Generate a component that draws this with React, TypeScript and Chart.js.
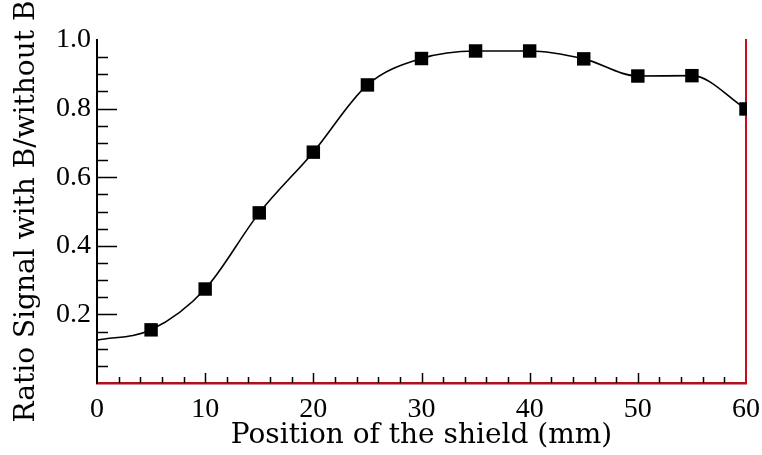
import React, { useEffect, useRef } from "react";
import { Chart, registerables } from "chart.js";

Chart.register(...registerables);

// Shield position (mm) of the measured points
const measuredPositions = [5, 10, 15, 20, 25, 30, 35, 40, 45, 50, 55, 60];
// Ratio signal with B / without B at those positions
const measuredRatios = [0.155, 0.274, 0.496, 0.673, 0.869, 0.946, 0.968, 0.968, 0.945, 0.895, 0.896, 0.799];
// Smooth curve starts at position 0 with this ratio (no marker there)
const curveStartPosition = 0;
const curveStartRatio = 0.125;

const xTickValues = [0, 10, 20, 30, 40, 50, 60];
const xTickLabels = ["0", "10", "20", "30", "40", "50", "60"];
const yTickValues = [0.2, 0.4, 0.6, 0.8, 1.0];
const yTickLabels = ["0.2", "0.4", "0.6", "0.8", "1.0"];
const xMinorStep = 2;
const yMinorStep = 0.05;

const innerTicks = {
  id: "innerTicks",
  beforeDatasetsDraw(chart: any) {
    const { ctx, chartArea, scales } = chart;
    const xs = scales.x;
    const ys = scales.y;
    ctx.save();
    ctx.strokeStyle = "#000";
    ctx.lineWidth = 1.5;
    ctx.beginPath();
    // y ticks (inside, from left axis)
    for (let k = 1; k * yMinorStep < ys.max - 1e-6; k++) {
      const v = k * yMinorStep;
      const major = yTickValues.some((t) => Math.abs(t - v) < 1e-6);
      const py = Math.round(ys.getPixelForValue(v)) + 0.5;
      ctx.moveTo(chartArea.left, py);
      ctx.lineTo(chartArea.left + (major ? 20 : 11), py);
    }
    // x ticks (inside, from bottom axis)
    for (let k = 1; k * xMinorStep < xs.max - 1e-6; k++) {
      const v = k * xMinorStep;
      const major = xTickValues.some((t) => Math.abs(t - v) < 1e-6);
      const px = Math.round(xs.getPixelForValue(v)) + 0.5;
      ctx.moveTo(px, chartArea.bottom);
      ctx.lineTo(px, chartArea.bottom - (major ? 10 : 6));
    }
    ctx.stroke();
    ctx.restore();
  },
};

export default function App() {
  const canvasRef = useRef<HTMLCanvasElement | null>(null);

  useEffect(() => {
    if (!canvasRef.current) return;
    const curve = [{ x: curveStartPosition, y: curveStartRatio }].concat(
      measuredPositions.map((x, i) => ({ x, y: measuredRatios[i] }))
    );
    const markers = measuredPositions.map((x, i) => ({ x, y: measuredRatios[i] }));

    const chart = new Chart(canvasRef.current, {
      type: "line",
      data: {
        datasets: [
          {
            data: markers,
            showLine: false,
            pointStyle: "rect",
            pointRadius: 9.5,
            pointHoverRadius: 9.5,
            backgroundColor: "#000",
            borderColor: "#000",
            pointBorderWidth: 0,
            clip: { left: 0, top: 20, right: 1, bottom: 0 },
          } as any,
          {
            data: curve,
            borderColor: "#000",
            borderWidth: 1.6,
            pointRadius: 0,
            cubicInterpolationMode: "monotone",
            fill: false,
            clip: { left: 0, top: 20, right: 0, bottom: 0 },
          } as any,
        ],
      },
      options: {
        animation: false,
        responsive: false,
        devicePixelRatio: 1,
        layout: { padding: { top: 40, right: 16, left: 0, bottom: 0 } },
        plugins: { legend: { display: false }, tooltip: { enabled: false } },
        events: [],
        scales: {
          x: {
            type: "linear",
            min: 0,
            max: 60,
            afterFit: (s: any) => {
              s.height = 72;
              s.paddingLeft = 0;
              s.paddingRight = 0;
            },
            afterBuildTicks: (s: any) => {
              s.ticks = xTickValues.map((v) => ({ value: v }));
            },
            grid: { display: false, drawTicks: false },
            border: { display: true, color: "#b0101c", width: 2.5 },
            ticks: {
              callback: (_v: any, i: number) => xTickLabels[i],
              font: { family: "Liberation Serif", size: 28 },
              color: "#000",
              padding: 10,
              maxRotation: 0,
              autoSkip: false,
            },
            title: {
              display: true,
              text: "Position of the shield (mm)",
              font: { family: "DejaVu Serif", size: 28 },
              color: "#000",
              padding: { top: 0, bottom: 2 },
            },
          },
          y: {
            type: "linear",
            min: 0,
            max: 1,
            afterFit: (s: any) => {
              s.width = 97;
              s.paddingTop = 0;
              s.paddingBottom = 0;
            },
            afterBuildTicks: (s: any) => {
              s.ticks = yTickValues.map((v) => ({ value: v }));
            },
            grid: { display: false, drawTicks: false },
            border: { display: true, color: "#000", width: 2 },
            ticks: {
              callback: (_v: any, i: number) => yTickLabels[i],
              font: { family: "Liberation Serif", size: 28 },
              color: "#000",
              padding: 6,
              autoSkip: false,
            },
            title: {
              display: true,
              text: "Ratio Signal with B/without B",
              font: { family: "DejaVu Serif", size: 28 },
              color: "#000",
              padding: { top: 10, bottom: 0 },
            },
          },
          yRight: {
            type: "linear",
            position: "right",
            min: 0,
            max: 1,
            afterFit: (s: any) => {
              s.width = 0;
              s.paddingTop = 0;
              s.paddingBottom = 0;
            },
            grid: { display: false, drawTicks: false },
            border: { display: true, color: "#c0101c", width: 2 },
            ticks: { display: false },
          },
        },
      } as any,
      plugins: [innerTicks],
    });
    return () => chart.destroy();
  }, []);

  return (
    <div style={{ position: "fixed", left: 0, top: 0, width: 762, height: 455, background: "#fff" }}>
      <canvas ref={canvasRef} width={762} height={455} style={{ width: 762, height: 455 }} />
    </div>
  );
}
